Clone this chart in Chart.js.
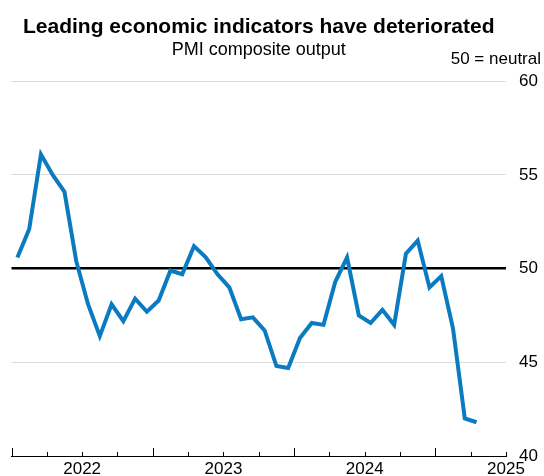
<!DOCTYPE html>
<html>
<head>
<meta charset="utf-8">
<script src="https://cdn.jsdelivr.net/npm/chart.js@4.4.1/dist/chart.umd.min.js"></script>
<style>
  html, body { margin: 0; padding: 0; background: #fff; overflow: hidden; }
  #wrap { width: 544px; height: 480px; }
</style>
</head>
<body>
<div id="wrap"><canvas id="pmiChart"></canvas></div>
<script>
// monthly readings, Jan 2022 - Apr 2025
const months = [
  'Jan 22', 'Feb 22', 'Mar 22', 'Apr 22', 'May 22', 'Jun 22', 'Jul 22', 'Aug 22', 'Sep 22', 'Oct 22', 'Nov 22', 'Dec 22',
  'Jan 23', 'Feb 23', 'Mar 23', 'Apr 23', 'May 23', 'Jun 23', 'Jul 23', 'Aug 23', 'Sep 23', 'Oct 23', 'Nov 23', 'Dec 23',
  'Jan 24', 'Feb 24', 'Mar 24', 'Apr 24', 'May 24', 'Jun 24', 'Jul 24', 'Aug 24', 'Sep 24', 'Oct 24', 'Nov 24', 'Dec 24',
  'Jan 25', 'Feb 25', 'Mar 25', 'Apr 25'
];
const pmiValues = [
  50.6, 52.1, 56.1, 55.0, 54.1, 50.4, 48.1, 46.4, 48.1, 47.2, 48.4, 47.7,
  48.3, 49.9, 49.7, 51.2, 50.6, 49.7, 49.0, 47.3, 47.4, 46.7, 44.8, 44.7,
  46.3, 47.1, 47.0, 49.3, 50.6, 47.5, 47.1, 47.8, 47.0, 50.8, 51.5, 49.0,
  49.6, 46.8, 42.0, 41.8
];
const yearLabels = ['2022', '2023', '2024', '2025'];
const yTicks = [40, 45, 50, 55, 60];
const neutralLevel = 50;

const FONT = 'Liberation Sans, Arial, Helvetica, sans-serif';

// x axis runs in months from 1 Jan 2022; each reading sits mid-month
const points = pmiValues.map((v, i) => ({ x: i + 0.5, y: v }));

const quarterTicks = {
    id: 'quarterTicks',
    afterDraw(chart) {
        const xs = chart.scales.x;
        const ys = chart.scales.y;
        const ctx = chart.ctx;
        const base = ys.getPixelForValue(ys.min);
        ctx.save();
        ctx.strokeStyle = '#000';
        ctx.lineWidth = 1;
        for (let m = xs.min; m <= xs.max; m += 3) {
            const px = Math.round(xs.getPixelForValue(m)) + 0.5;
            const len = m % 12 === 0 ? 8 : 4;
            ctx.beginPath();
            ctx.moveTo(px, base);
            ctx.lineTo(px, base - len);
            ctx.stroke();
        }
        // note above the value axis
        ctx.fillStyle = '#000';
        ctx.font = '17px ' + FONT;
        ctx.textAlign = 'right';
        ctx.textBaseline = 'middle';
        ctx.fillText('50 = neutral', chart.width - 3, chart.chartArea.top - 22);
        ctx.restore();
    }
};

const ctx = document.getElementById('pmiChart').getContext('2d');
new Chart(ctx, {
    type: 'line',
    data: {
        datasets: [{
            label: 'PMI composite output',
            data: points,
            borderColor: '#0a7bc1',
            borderWidth: 4,
            pointRadius: 0,
            tension: 0,
            fill: false
        }]
    },
    options: {
        responsive: true,
        maintainAspectRatio: false,
        animation: false,
        layout: { padding: { left: 11.5, right: 0, top: 0, bottom: 0 } },
        plugins: {
            legend: { display: false },
            tooltip: { enabled: false },
            title: {
                display: true,
                text: 'Leading economic indicators have deteriorated',
                fullSize: false,
                color: '#000',
                font: { family: FONT, size: 21, weight: 'bold' },
                padding: { top: 14.5, bottom: 0 }
            },
            subtitle: {
                display: true,
                text: 'PMI composite output',
                fullSize: false,
                color: '#000',
                font: { family: FONT, size: 18 },
                padding: { top: 0, bottom: 20 }
            }
        },
        scales: {
            x: {
                type: 'linear',
                min: 0,
                max: 42,
                grid: { display: false, drawTicks: false },
                border: { display: true, color: '#000', width: 1 },
                afterBuildTicks: scale => {
                    scale.ticks = yearLabels.map((t, k) => ({ value: 6 + 12 * k }));
                },
                afterFit: scale => { scale.height = 24; },
                ticks: {
                    autoSkip: false,
                    maxRotation: 0,
                    padding: 3,
                    color: '#000',
                    font: { family: FONT, size: 17 },
                    callback: value => yearLabels[Math.round((value - 6) / 12)]
                }
            },
            y: {
                position: 'right',
                min: 40,
                max: 60,
                afterBuildTicks: scale => {
                    scale.ticks = yTicks.map(v => ({ value: v }));
                },
                afterFit: scale => { scale.width = 38; },
                border: { display: false },
                grid: {
                    drawTicks: false,
                    color: c => c.tick.value === neutralLevel ? '#000'
                        : (c.tick.value === 40 ? 'rgba(0,0,0,0)' : '#dcdcdc'),
                    lineWidth: c => c.tick.value === neutralLevel ? 2.5 : 1
                },
                ticks: {
                    padding: 13,
                    color: '#000',
                    font: { family: FONT, size: 17 }
                }
            }
        }
    },
    plugins: [quarterTicks]
});
</script>
</body>
</html>
